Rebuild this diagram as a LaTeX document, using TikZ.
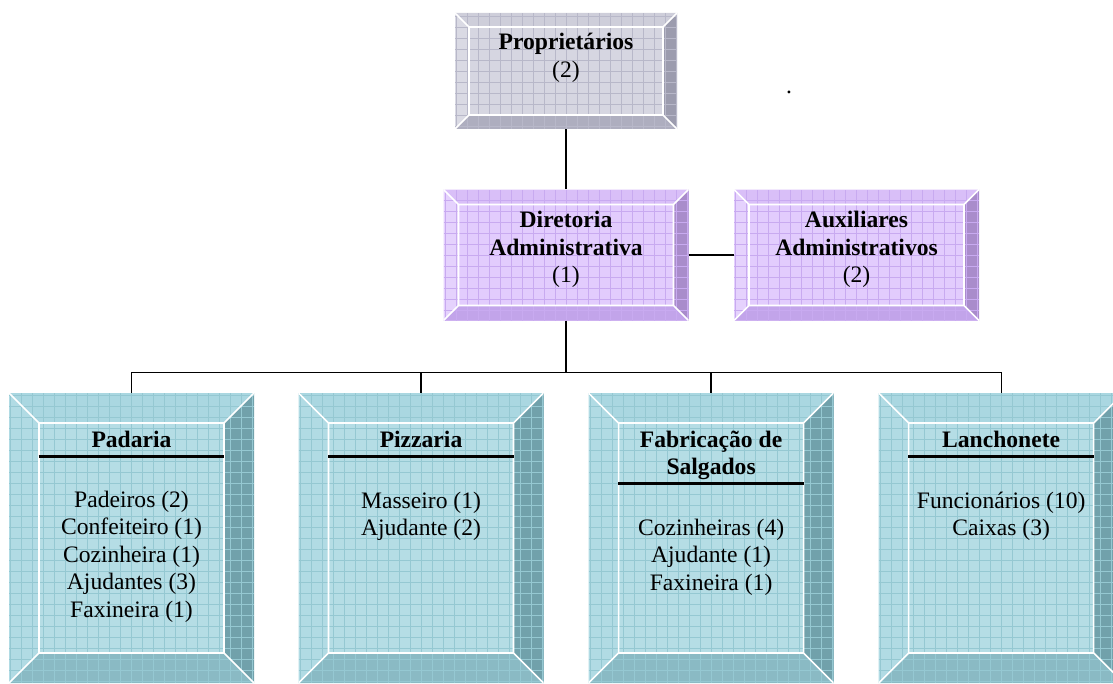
\documentclass[tikz,border=0pt]{standalone}
\usepackage{fontspec}
\setmainfont{Liberation Serif}
\usepackage{xcolor}
\usetikzlibrary{positioning}

\definecolor{greyF}{HTML}{D6D6E1}
\definecolor{greyT}{HTML}{CECEDA}
\definecolor{greyL}{HTML}{DADAE4}
\definecolor{greyR}{HTML}{9C9CAE}
\definecolor{greyB}{HTML}{AEAEBF}
\definecolor{greyG}{HTML}{B8B8C9}
\definecolor{lilacF}{HTML}{E2CCFD}
\definecolor{lilacT}{HTML}{D9BFF8}
\definecolor{lilacL}{HTML}{E5D2FD}
\definecolor{lilacR}{HTML}{A98CCB}
\definecolor{lilacB}{HTML}{C2A4EA}
\definecolor{lilacG}{HTML}{C8AAF0}
\definecolor{tealF}{HTML}{B5DDE5}
\definecolor{tealT}{HTML}{AAD7E1}
\definecolor{tealL}{HTML}{B1DBE4}
\definecolor{tealR}{HTML}{71A1AB}
\definecolor{tealB}{HTML}{8ABAC4}
\definecolor{tealG}{HTML}{95C8D2}

\begin{document}
\begin{tikzpicture}[
x=0.75pt, y=-0.75pt,
plate/.style 2 args={rectangle, inner sep=0pt, fill=#1F,
 path picture={
  \path (path picture bounding box.north west) coordinate (o1)
        (path picture bounding box.north east) coordinate (o2)
        (path picture bounding box.south east) coordinate (o3)
        (path picture bounding box.south west) coordinate (o4)
        ([shift={(#2,-#2)}]path picture bounding box.north west) coordinate (i1)
        ([shift={(-#2,-#2)}]path picture bounding box.north east) coordinate (i2)
        ([shift={(-#2,#2)}]path picture bounding box.south east) coordinate (i3)
        ([shift={(#2,#2)}]path picture bounding box.south west) coordinate (i4);
  \fill[#1T] (o1) -- (o2) -- (i2) -- (i1) -- cycle;
  \fill[#1L] (o1) -- (i1) -- (i4) -- (o4) -- cycle;
  \fill[#1R] (o2) -- (o3) -- (i3) -- (i2) -- cycle;
  \fill[#1B] (o4) -- (i4) -- (i3) -- (o3) -- cycle;
  \draw[#1G, line width=0.4pt, step=8.25pt] (o4) grid (o2);
  \draw[white, line width=1.2pt] (i1) rectangle (i3)
        (o1) -- (i1) (o2) -- (i2) (o3) -- (i3) (o4) -- (i4);
 }},
topbox/.style={plate={grey}{10.5pt}, minimum width=166.5pt, minimum height=87pt},
midbox/.style={plate={lilac}{11.25pt}, minimum width=183.75pt, minimum height=98.25pt},
unitbox/.style={plate={teal}{22.5pt}, minimum width=183.75pt, minimum height=217.5pt},
txt/.style={align=center, inner sep=0pt, font=\fontsize{17.7pt}{20.6pt}\selectfont},
head/.style={txt, font=\fontsize{17.7pt}{20.6pt}\selectfont\bfseries},
link/.style={line width=1pt},
rule/.style={line width=2.2pt}
]

\useasboundingbox (0,0) rectangle (1113,684);
\clip (0,0) rectangle (1113,684);

\node[topbox] (prop) at (566,71) {};
\node[midbox, below=45pt of prop] (dir) {};
\node[midbox, right=33.75pt of dir] (aux) {};
\node[unitbox] (pad) at (131.5,538) {};
\node[unitbox, right=33pt of pad] (piz) {};
\node[unitbox, right=33.4pt of piz] (fab) {};
\node[unitbox, right=33.4pt of fab] (lan) {};

\node[txt] (propT) at ([yshift=10pt]prop.center) {\textbf{Proprietários}\\(2)};
\node[txt] (dirT) at ([yshift=4.2pt]dir.center) {\textbf{Diretoria}\\\textbf{Administrativa}\\(1)};
\node[txt] (auxT) at ([yshift=4.2pt]aux.center) {\textbf{Auxiliares}\\\textbf{Administrativos}\\(2)};
\node[txt, anchor=base] (dot) at (789,94) {.};

\node[head] (padH) at ([yshift=-35.25pt]pad.north) {Padaria};
\node[head] (pizH) at ([yshift=-35.25pt]piz.north) {Pizzaria};
\node[head] (fabH) at ([yshift=-46.8pt]fab.north) {Fabricação de\\Salgados};
\node[head] (lanH) at ([yshift=-35.25pt]lan.north) {Lanchonete};

\node[txt] (padL) at ([yshift=-123pt]pad.north) {Padeiros (2)\\Confeiteiro (1)\\Cozinheira (1)\\Ajudantes (3)\\Faxineira (1)};
\node[txt] (pizL) at ([yshift=-92.6pt]piz.north) {Masseiro (1)\\Ajudante (2)};
\node[txt] (fabL) at ([yshift=-123.4pt]fab.north) {Cozinheiras (4)\\Ajudante (1)\\Faxineira (1)};
\node[txt] (lanL) at ([yshift=-92.6pt]lan.north) {Funcionários (10)\\Caixas (3)};

\foreach \u/\d in {pad/48pt, piz/48pt, fab/68.25pt, lan/48pt}
  \draw[rule] ([shift={(22.5pt,-\d)}]\u.north west) -- ([shift={(-22.5pt,-\d)}]\u.north east);

\coordinate (bus) at ([yshift=-39pt]dir.south);
\draw[link] (prop) -- (dir);
\draw[link] (dir) -- (aux);
\draw[line width=1.5pt] (dir.south) -- (bus);
\draw[link] (bus) -| (pad.north);
\draw[link] (bus) -| (piz.north);
\draw[link] (bus) -| (fab.north);
\draw[link] (bus) -| (lan.north);

\end{tikzpicture}
\end{document}
